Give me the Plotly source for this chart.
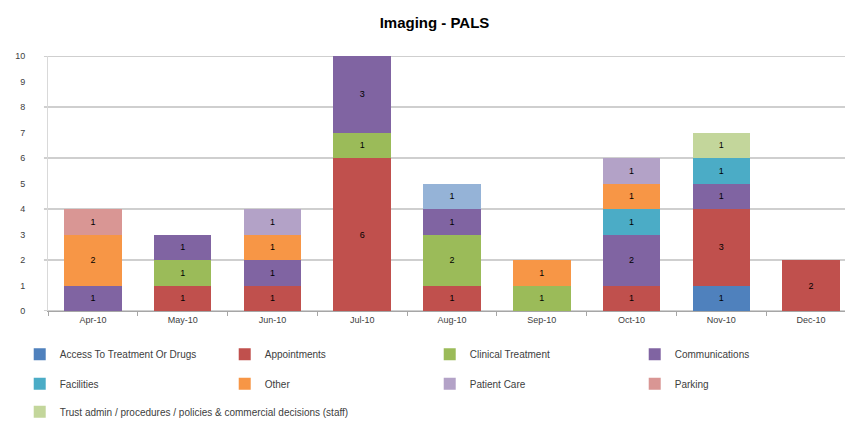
import plotly.graph_objects as go

months = ["Apr-10", "May-10", "Jun-10", "Jul-10", "Aug-10", "Sep-10", "Oct-10", "Nov-10", "Dec-10"]

access = [None, None, None, None, None, None, None, 1, None]
appointments = [None, 1, 1, 6, 1, None, 1, 3, 2]
clinical = [None, 1, None, 1, 2, 1, None, None, None]
communications = [1, 1, 1, 3, 1, None, 2, 1, None]
facilities = [None, None, None, None, None, None, 1, 1, None]
other = [2, None, 1, None, None, 1, 1, None, None]
patient_care = [None, None, 1, None, 1, None, 1, None, None]
parking = [1, None, None, None, None, None, None, None, None]
trust = [None, None, None, None, None, None, None, 1, None]

series = [
    ("Access To Treatment Or Drugs", access, "#4F81BD", "legend"),
    ("Appointments", appointments, "#C0504D", "legend"),
    ("Clinical Treatment", clinical, "#9BBB59", "legend"),
    ("Communications", communications, "#8064A2", "legend"),
    ("Facilities", facilities, "#4BACC6", "legend2"),
    ("Other", other, "#F79646", "legend2"),
    ("Patient Care", patient_care, ["#B3A2C7", "#B3A2C7", "#B3A2C7", "#B3A2C7", "#95B3D7", "#B3A2C7", "#B3A2C7", "#B3A2C7", "#B3A2C7"], "legend2"),
    ("Parking", parking, "#D99694", "legend2"),
    ("Trust admin / procedures / policies & commercial decisions (staff)", trust, "#C3D69B", "legend3"),
]

fig = go.Figure()
for name, vals, color, leg in series:
    fig.add_trace(go.Bar(
        x=months, y=vals, name=name,
        marker=dict(color=color, line=dict(width=0)),
        text=vals, texttemplate="%{y}", textposition="inside",
        insidetextanchor="middle",
        textfont=dict(size=9, color="#000000", family="Liberation Sans"),
        legend=leg,
    ))

shapes = []
for g in range(0, 11, 2):
    shapes.append(dict(type="line", xref="paper", yref="y", x0=-0.005, x1=1, y0=g, y1=g,
                       line=dict(color="#BFBFBF", width=1.5), layer="below"))

legend_common = dict(orientation="h", xanchor="left", yanchor="middle", x=-0.035,
                     entrywidthmode="pixels",
                     font=dict(size=10, color="#404040", family="Liberation Sans"),
                     bgcolor="rgba(0,0,0,0)", itemclick=False, traceorder="normal")

fig.update_layout(
    width=853, height=423,
    margin=dict(l=40, r=5, t=48, b=112),
    paper_bgcolor="white", plot_bgcolor="white",
    barmode="stack", bargap=0.36,
    title=dict(text="<b>Imaging - PALS</b>", x=0.5, xanchor="center", y=0.965, yanchor="middle",
               font=dict(size=15, color="#000000", family="Liberation Sans")),
    xaxis=dict(showline=True, linecolor="#A6A6A6", linewidth=1, ticks="outside",
               tickson="boundaries", ticklen=4, tickcolor="#A6A6A6", showgrid=False,
               tickfont=dict(size=9, color="#404040", family="Liberation Sans")),
    yaxis=dict(range=[0, 10], tickvals=list(range(0, 11)), showgrid=False, zeroline=False,
               showline=True, linecolor="#D9D9D9", linewidth=1, ticks="", ticklabelstandoff=20,
               tickfont=dict(size=9, color="#404040", family="Liberation Sans")),
    shapes=shapes,
    legend=dict(**legend_common, entrywidth=160, y=-0.17),
    legend2=dict(**legend_common, entrywidth=160, y=-0.285),
    legend3=dict(**legend_common, entrywidth=500, y=-0.395),
)

fig.write_html("out.html")
